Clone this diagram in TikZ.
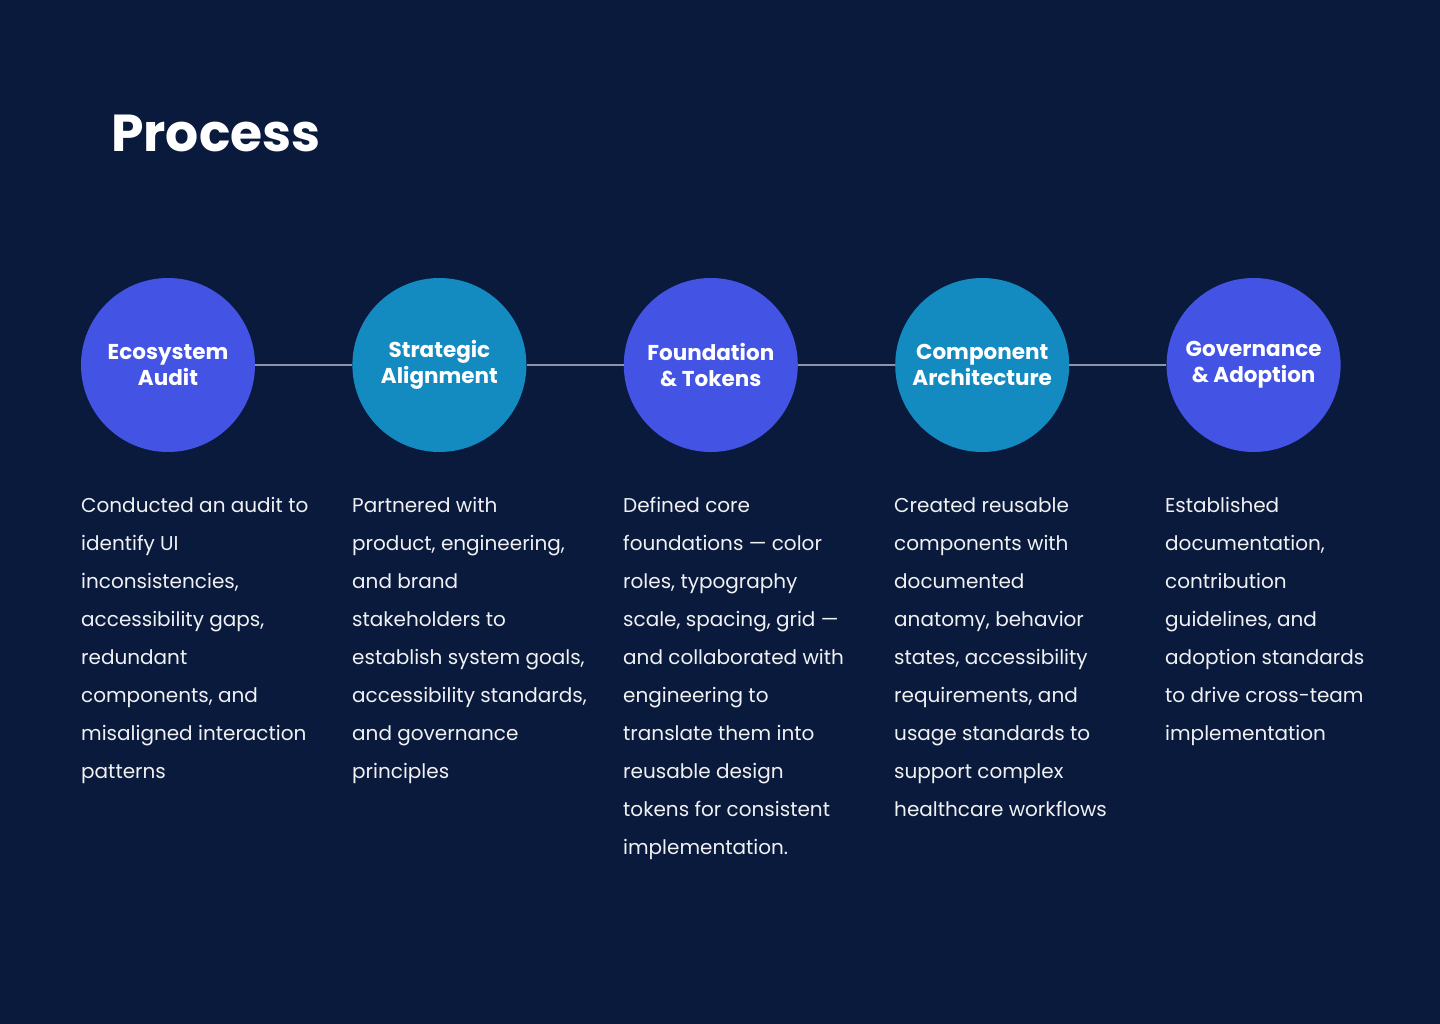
\documentclass[tikz,border=0pt]{standalone}
\usepackage{fontspec}
\setmainfont{Poppins}
\usetikzlibrary{positioning}
\definecolor{bgnavy}{HTML}{0A1A3C}
\definecolor{stepblue}{HTML}{4353E3}
\definecolor{stepteal}{HTML}{138BC0}
\definecolor{linkgrey}{HTML}{8C96A8}
\begin{document}
\begin{tikzpicture}[
    x=1pt, y=-1pt,
    phase/.style={circle, minimum size=174pt, inner sep=0pt, align=center,
        text=white, font=\fontsize{21.5}{26}\selectfont\bfseries},
    desc/.style={anchor=base west, align=left, inner sep=0pt, text=white!94!bgnavy,
        font=\fontsize{20}{38}\selectfont},
    link/.style={draw=linkgrey, line width=1.5pt}
]
    \fill[bgnavy] (0,0) rectangle (1440,1024);
    \node [anchor=base west, inner sep=0pt, text=white, font=\fontsize{52}{60}\selectfont\bfseries]
        (title) at (111,152) {Process};

    \node [phase, fill=stepblue] (audit) at (168,365) {Ecosystem\\Audit};
    \node [phase, fill=stepteal, right=97pt of audit] (strat) {Strategic\\Alignment};
    \node [phase, fill=stepblue, right=97pt of strat] (found) {Foundation\\\& Tokens};
    \node [phase, fill=stepteal, right=97pt of found] (comp) {Component\\Architecture};
    \node [phase, fill=stepblue, right=97pt of comp] (gov) {Governance\\\& Adoption};

    \draw [link] (audit) -- (strat);
    \draw [link] (strat) -- (found);
    \draw [link] (found) -- (comp);
    \draw [link] (comp) -- (gov);

    % base = last line; first line sits at y=512, lines 38 apart
    \node [desc] (auditTxt) at (81,778) {Conducted an audit to\\identify UI\\inconsistencies,\\accessibility gaps,\\redundant\\components, and\\misaligned interaction\\patterns};
    \node [desc] (stratTxt) at (352,778) {Partnered with\\product, engineering,\\and brand\\stakeholders to\\establish system goals,\\accessibility standards,\\and governance\\principles};
    \node [desc] (foundTxt) at (623,854) {Defined core\\foundations — color\\roles, typography\\scale, spacing, grid —\\and collaborated with\\engineering to\\translate them into\\reusable design\\tokens for consistent\\implementation.};
    \node [desc] (compTxt) at (894,816) {Created reusable\\components with\\documented\\anatomy, behavior\\states, accessibility\\requirements, and\\usage standards to\\support complex\\healthcare workflows};
    \node [desc] (govTxt) at (1165,740) {Established\\documentation,\\contribution\\guidelines, and\\adoption standards\\to drive cross-team\\implementation};
\end{tikzpicture}
\end{document}
